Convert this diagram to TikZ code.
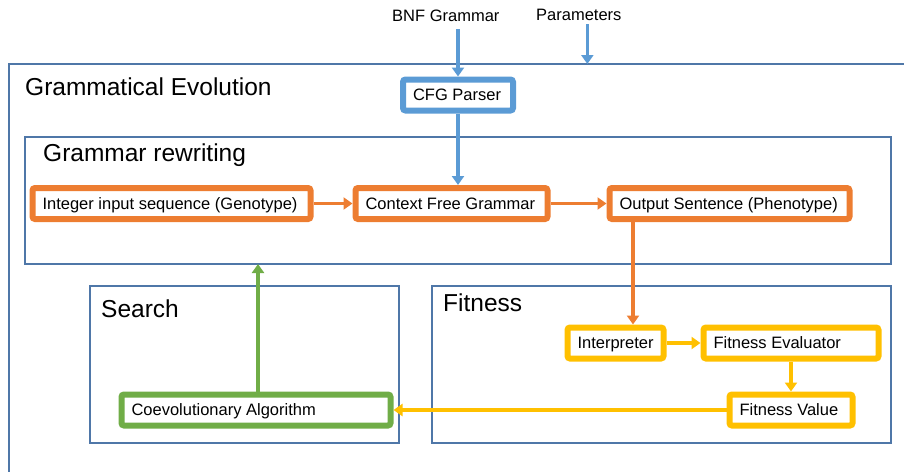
\documentclass[tikz,border=0pt]{standalone}
\usepackage{fontspec}
\setmainfont{Liberation Sans}
\usetikzlibrary{arrows.meta}
\definecolor{framec}{RGB}{79,119,168}
\definecolor{gblue}{RGB}{91,155,213}
\definecolor{gorange}{RGB}{237,125,49}
\definecolor{gyellow}{RGB}{255,192,0}
\definecolor{ggreen}{RGB}{112,173,71}
\newcommand\smallfont{\fontsize{16.5}{19}\selectfont}
\newcommand\bigfont{\fontsize{24.5}{28}\selectfont}
\tikzset{
  frame/.style={draw=framec, line width=1.5pt, inner sep=0pt, outer sep=0pt},
  blk/.style={draw=#1, line width=6pt, fill=white, rounded corners=2.5pt,
    inner xsep=10pt, inner ysep=0pt, minimum height=31pt,
    text height=11.8pt, text depth=0pt,
    font=\smallfont, text=black},
  boxw/.style={minimum width=#1, execute at begin node={\hbox to \dimexpr#1-20pt\relax\bgroup}, execute at end node={\hfil\egroup}},
  arr/.style={draw=#1, line width=3.5pt, -{Triangle[width=12pt,length=9pt]}},
  title/.style={anchor=base west, inner sep=0pt, font=\bigfont},
  lbl/.style={anchor=base west, inner sep=0pt, font=\smallfont},
}
\begin{document}
\begin{tikzpicture}[x=1pt, y=-1pt]
  \path[use as bounding box] (0,0) rectangle (904,471);
  \clip (0,0) rectangle (904,471);

  % frames
  \node[frame, minimum width=1091pt, minimum height=636pt] (ge) at (554.5,382) {};
  \node[frame, minimum width=866pt, minimum height=127pt] (grw) at (458,200.5) {};
  \node[frame, minimum width=309pt, minimum height=157pt] (search) at (244.5,364.5) {};
  \node[frame, minimum width=459pt, minimum height=157pt] (fitness) at (661.5,364.5) {};

  % frame titles
  \node[title] (getitle) at (25,95) {Grammatical Evolution};
  \node[title] (grwtitle) at (43,161) {Grammar rewriting};
  \node[title] (searchtitle) at (101,317) {Search};
  \node[title] (fitnesstitle) at (443,311) {Fitness};

  % inputs
  \node[lbl] (bnf) at (392,21) {BNF Grammar};
  \node[lbl] (params) at (536,20) {Parameters};

  % blocks
  \node[blk=gblue, boxw=110pt] (cfgp) at (458,95) {CFG Parser};
  \node[blk=gorange, boxw=278pt] (int) at (171.5,203.5) {Integer input sequence (Genotype)};
  \node[blk=gorange, boxw=192pt] (cfg) at (451.5,203.5) {Context Free Grammar};
  \node[blk=gorange, boxw=240pt] (out) at (729.5,203.5) {Output Sentence (Phenotype)};
  \node[blk=gyellow, boxw=96pt] (interp) at (615.5,343) {Interpreter};
  \node[blk=gyellow, boxw=175pt] (eval) at (791,343) {Fitness Evaluator};
  \node[blk=gyellow, boxw=123pt] (val) at (791,410) {Fitness Value};
  \node[blk=ggreen, boxw=269pt] (coevo) at (256,410) {Coevolutionary Algorithm};

  % connectors
  \draw[arr=gblue] ([yshift=-8pt]bnf.base -| cfgp.north) -- (cfgp.north);
  \draw[arr=gblue] ([xshift=8.5pt,yshift=-4pt]params.base) -- ([xshift=8.5pt]params.base |- ge.north);
  \draw[arr=gblue] (cfgp.south) -- (cfgp.south |- cfg.north);
  \draw[arr=gorange] (int.east) -- (cfg.west);
  \draw[arr=gorange] (cfg.east) -- (out.west);
  \draw[arr=gorange] ([xshift=17.5pt]interp.north |- out.south) -- ([xshift=17.5pt]interp.north);
  \draw[arr=gyellow] (interp.east) -- (eval.west);
  \draw[arr=gyellow] (eval.south) -- (val.north);
  \draw[arr=gyellow] (val.west) -- (coevo.east);
  \draw[arr=ggreen] ([xshift=2pt]coevo.north) -- ([xshift=2pt]coevo.north |- grw.south);
\end{tikzpicture}
\end{document}
